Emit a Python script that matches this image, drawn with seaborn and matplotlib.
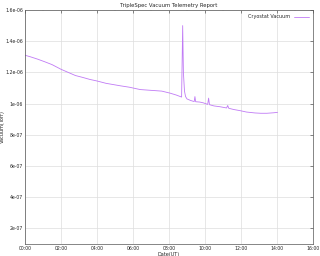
import matplotlib
matplotlib.use("Agg")
import matplotlib.pyplot as plt
import seaborn as sns
import pandas as pd
from matplotlib.ticker import MultipleLocator, FixedLocator

# Time in hours (UT) and vacuum in Torr
hours = [0.00, 0.30, 0.70, 1.10, 1.50, 2.00, 2.40, 2.80, 3.20, 3.60, 4.00,
         4.50, 5.00, 5.30, 5.80, 6.40, 7.00, 7.60, 8.06, 8.40, 8.70,
         8.76, 8.80, 8.86, 8.92, 9.00, 9.20, 9.40, 9.44, 9.48, 9.70,
         9.90, 10.15, 10.20, 10.25, 10.50, 10.83, 11.20, 11.26, 11.32,
         11.60, 11.94, 12.30, 12.78, 13.10, 13.43, 13.80, 14.03]
vacuum = [1.310e-6, 1.300e-6, 1.285e-6, 1.268e-6, 1.250e-6, 1.220e-6, 1.200e-6,
          1.180e-6, 1.168e-6, 1.155e-6, 1.145e-6, 1.130e-6, 1.120e-6,
          1.114e-6, 1.105e-6, 1.090e-6, 1.085e-6, 1.080e-6, 1.067e-6,
          1.055e-6, 1.042e-6, 1.500e-6, 1.200e-6, 1.080e-6, 1.045e-6,
          1.030e-6, 1.020e-6, 1.013e-6, 1.045e-6, 1.012e-6, 1.010e-6,
          1.005e-6, 0.995e-6, 1.035e-6, 0.993e-6, 0.985e-6, 0.980e-6,
          0.972e-6, 0.988e-6, 0.970e-6, 0.962e-6, 0.955e-6, 0.946e-6,
          0.940e-6, 0.938e-6, 0.938e-6, 0.941e-6, 0.944e-6]

x_ticks = [0, 2, 4, 6, 8, 10, 12, 14, 16]
x_labels = ["00:00", "02:00", "04:00", "06:00", "08:00", "10:00", "12:00", "14:00", "16:00"]
y_ticks = [2e-7, 4e-7, 6e-7, 8e-7, 1e-6, 1.2e-6, 1.4e-6, 1.6e-6]
y_labels = ["2e-07", "4e-07", "6e-07", "8e-07", "1e-06", "1.2e-06", "1.4e-06", "1.6e-06"]

df = pd.DataFrame({"Date(UT)": hours, "Vacuum(Torr)": vacuum})

sns.set_theme(style="white")
plt.rcParams["font.family"] = ["DejaVu Sans"]

fig = plt.figure(figsize=(3.2, 2.56), dpi=100)
ax = fig.add_axes([25/320, 1-244/256, 288/320, 234/256])

sns.lineplot(data=df, x="Date(UT)", y="Vacuum(Torr)", ax=ax, color="#c07af5",
             linewidth=0.6, label="Cryostat Vacuum")

ax.set_xlim(0, 16)
ax.set_ylim(1e-7, 1.6e-6)
ax.xaxis.set_major_locator(FixedLocator(x_ticks))
ax.set_xticklabels(x_labels)
ax.xaxis.set_minor_locator(MultipleLocator(1))
ax.yaxis.set_major_locator(FixedLocator(y_ticks))
ax.set_yticklabels(y_labels)

ax.grid(True, which="major", color="#dddddd", linewidth=0.5)
ax.tick_params(axis="both", which="major", labelsize=3.3, length=2, width=0.4,
               direction="in", top=True, right=True, pad=1.5, colors="#333333")
ax.tick_params(axis="both", which="minor", length=1, width=0.3,
               direction="in", top=True, right=True)
ax.tick_params(labelcolor="#222222")
for s in ax.spines.values():
    s.set_linewidth(0.5)
    s.set_color("#555555")

ax.set_xlabel("Date(UT)", fontsize=3.6, labelpad=0.5)
ax.set_ylabel("Vacuum(Torr)", fontsize=3.6)
ax.yaxis.set_label_coords(-20/288, 0.5)
ax.set_title("TripleSpec Vacuum Telemetry Report", fontsize=3.8, pad=2)

leg = ax.legend(loc="upper right", frameon=False, fontsize=3.5,
                handlelength=3, markerfirst=False, borderaxespad=0.5)

fig.savefig("out.png", dpi=100)
